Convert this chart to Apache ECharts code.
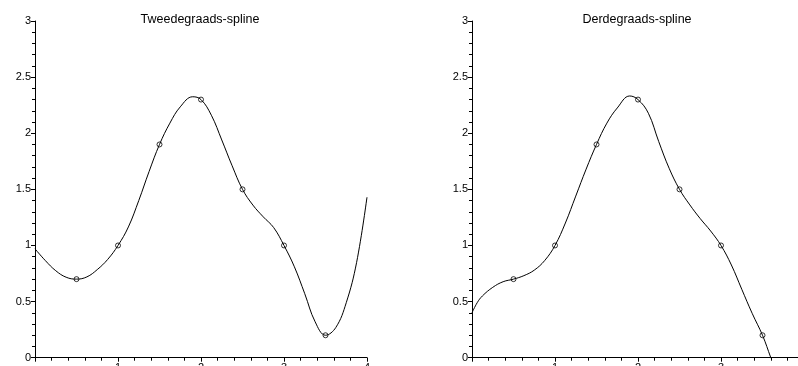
<!DOCTYPE html>
<html>
<head>
<meta charset="utf-8">
<script src="https://cdn.jsdelivr.net/npm/echarts@6/dist/echarts.min.js"></script>
<style>html,body{margin:0;padding:0;background:#fff}#c{width:798px;height:366px}</style>
</head>
<body>
<div id="c"></div>
<script>
// Data points (knots)
var ptsX = [0.5, 1, 1.5, 2, 2.5, 3, 3.5];
var ptsY = [0.7, 1, 1.9, 2.3, 1.5, 1, 0.2];

// Quadratic spline curve
var quadX = [0,0.125,0.25,0.375,0.5,0.625,0.75,0.875,1,1.125,1.25,1.375,1.5,1.625,1.75,1.9,2,2.125,2.25,2.375,2.5,2.625,2.75,2.875,3,3.125,3.25,3.375,3.5,3.625,3.75,3.875,4];
var quadY = [0.97,0.865,0.775,0.717,0.70,0.72,0.785,0.875,1.0,1.165,1.40,1.66,1.90,2.09,2.235,2.325,2.30,2.16,1.94,1.71,1.50,1.36,1.255,1.16,1.0,0.81,0.57,0.32,0.20,0.27,0.49,0.85,1.43];

// Cubic spline curve
var cubX = [0,0.0625,0.125,0.25,0.375,0.5,0.625,0.75,0.875,1,1.125,1.25,1.375,1.5,1.625,1.75,1.9,2,2.125,2.25,2.375,2.5,2.625,2.75,2.875,3,3.125,3.25,3.375,3.5,3.6,3.65];
var cubY = [0.40,0.49,0.55,0.627,0.677,0.70,0.731,0.78,0.865,1.0,1.20,1.44,1.68,1.90,2.09,2.225,2.332,2.30,2.178,1.925,1.688,1.50,1.361,1.239,1.129,1.0,0.826,0.61,0.396,0.20,0.0,-0.10];

var titles = ['Tweedegraads-spline', 'Derdegraads-spline'];

function zip(a, b) { return a.map(function (v, i) { return [v, b[i]]; }); }

var FONT = 'Liberation Sans, Arial, Helvetica, sans-serif';
var black = '#000';

function xAxis(idx) {
  return {
    type: 'value', gridIndex: idx, min: 0, max: 4, interval: 1,
    axisLine: { show: true, onZero: false, lineStyle: { color: black, width: 1 } },
    axisTick: { show: true, length: 4, lineStyle: { color: black } },
    minorTick: { show: true, splitNumber: 5, length: 3, lineStyle: { color: black } },
    splitLine: { show: false },
    axisLabel: { showMinLabel: false, margin: 5, color: black, fontSize: 11, fontFamily: FONT }
  };
}
function yAxis(idx) {
  return {
    type: 'value', gridIndex: idx, min: 0, max: 3, interval: 0.5,
    axisLine: { show: true, onZero: false, lineStyle: { color: black, width: 1 } },
    axisTick: { show: true, length: 4, lineStyle: { color: black } },
    minorTick: { show: true, splitNumber: 5, length: 3, lineStyle: { color: black } },
    splitLine: { show: false },
    axisLabel: { margin: 4, color: black, fontSize: 11, fontFamily: FONT }
  };
}

var chart = echarts.init(document.getElementById('c'), null, { renderer: 'canvas' });
chart.setOption({
  animation: false,
  backgroundColor: '#fff',
  title: [
    { text: titles[0], left: 195, top: 8, textAlign: 'center',
      textStyle: { fontSize: 12.5, fontWeight: 'normal', color: black, fontFamily: FONT } },
    { text: titles[1], left: 632, top: 8, textAlign: 'center',
      textStyle: { fontSize: 12.5, fontWeight: 'normal', color: black, fontFamily: FONT } }
  ],
  grid: [
    { left: 35, top: 21, width: 332, height: 336.7, outerBoundsMode: 'none', containLabel: false },
    { left: 472, top: 21, width: 332, height: 336.7, outerBoundsMode: 'none', containLabel: false }
  ],
  xAxis: [xAxis(0), xAxis(1)],
  yAxis: [yAxis(0), yAxis(1)],
  series: [
    { type: 'line', xAxisIndex: 0, yAxisIndex: 0, data: zip(quadX, quadY), smooth: 0.4,
      showSymbol: false, clip: true, lineStyle: { color: black, width: 1 } },
    { type: 'scatter', xAxisIndex: 0, yAxisIndex: 0, data: zip(ptsX, ptsY),
      symbol: 'circle', symbolSize: 5,
      itemStyle: { color: 'rgba(0,0,0,0)', borderColor: black, borderWidth: 1 } },
    { type: 'line', xAxisIndex: 1, yAxisIndex: 1, data: zip(cubX, cubY), smooth: 0.4,
      showSymbol: false, clip: true, lineStyle: { color: black, width: 1 } },
    { type: 'scatter', xAxisIndex: 1, yAxisIndex: 1, data: zip(ptsX, ptsY),
      symbol: 'circle', symbolSize: 5,
      itemStyle: { color: 'rgba(0,0,0,0)', borderColor: black, borderWidth: 1 } }
  ]
});
</script>
</body>
</html>
